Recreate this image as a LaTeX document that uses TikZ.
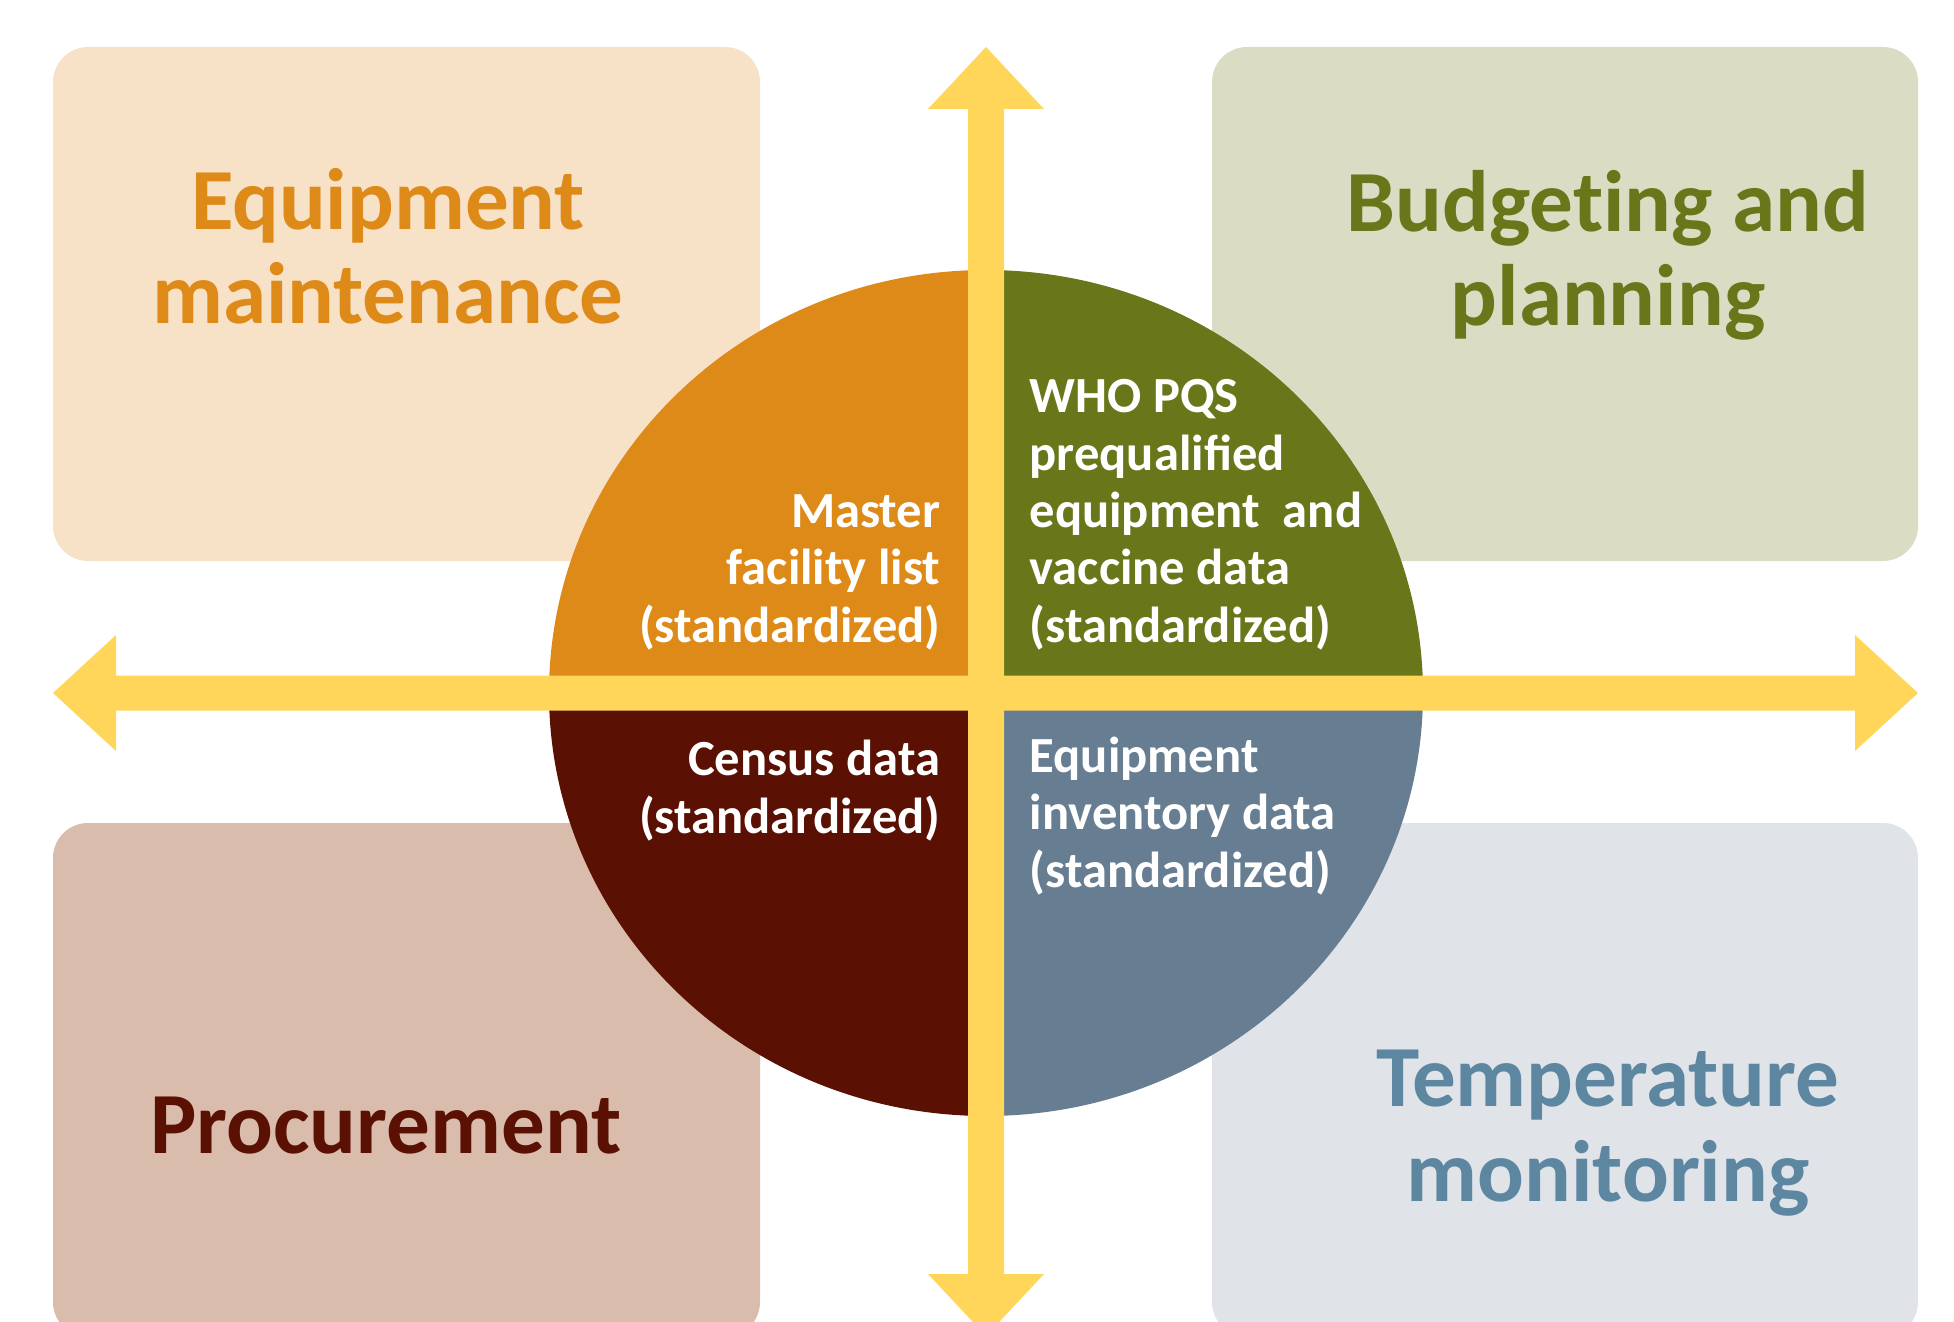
\documentclass[tikz,border=0pt]{standalone}
\usepackage{fontspec}
\setmainfont{Carlito}
\usetikzlibrary{calc}
\definecolor{maintlight}{HTML}{F7E2C8}
\definecolor{maintdark}{HTML}{DE8A18}
\definecolor{budgetlight}{HTML}{DADDC4}
\definecolor{budgetdark}{HTML}{6A761A}
\definecolor{procurelight}{HTML}{D9BCAC}
\definecolor{procuredark}{HTML}{5A1002}
\definecolor{templight}{HTML}{E0E4E9}
\definecolor{tempdark}{HTML}{677E92}
\definecolor{temptext}{HTML}{5D87A1}
\definecolor{axisyellow}{HTML}{FFD55A}
\def\quadrant[#1](#2:#3){\fill[#1] (9.86, 6.28) -- ++(#2:4.37 and 4.23) arc[start angle=#2, end angle=#3, x radius=4.37, y radius=4.23] -- cycle;}

\begin{document}
\begin{tikzpicture}[
  bigtext/.style={font=\fontsize{24.8pt}{27pt}\selectfont\bfseries, align=center, anchor=base, inner sep=0pt},
  smalltext/.style={font=\fontsize{14.4pt}{16.3pt}\selectfont\bfseries, text=white, inner sep=0pt}]
			%%%%% START %%%%%
			\useasboundingbox (0, 0) rectangle (19.54, 13.21);
			\begin{scope}
			\clip (0, 0) rectangle (19.54, 13.21);
			
			\fill[maintlight, rounded corners=0.35cm] (0.53, 12.74) rectangle (7.60, 7.60);
			\fill[budgetlight, rounded corners=0.35cm] (12.12, 12.74) rectangle (19.18, 7.60);
			\fill[procurelight, rounded corners=0.35cm] (0.53, 4.98) rectangle (7.60, -0.16);
			\fill[templight, rounded corners=0.35cm] (12.12, 4.98) rectangle (19.18, -0.16);
			
			\quadrant[maintdark](180:90)
			\quadrant[budgetdark](90:0)
			\quadrant[procuredark](180:270)
			\quadrant[tempdark](270:360)
			
			\fill[axisyellow] (9.86, 12.74) -- (10.44, 12.12) -- (10.04, 12.12) -- (10.04, 0.47) -- (10.44, 0.47)
			  -- (9.86, -0.15) -- (9.28, 0.47) -- (9.68, 0.47) -- (9.68, 12.12) -- (9.28, 12.12) -- cycle;
			\fill[axisyellow] (0.53, 6.28) -- (1.16, 6.86) -- (1.16, 6.455) -- (18.55, 6.455) -- (18.55, 6.86)
			  -- (19.18, 6.28) -- (18.55, 5.70) -- (18.55, 6.105) -- (1.16, 6.105) -- (1.16, 5.70) -- cycle;
			\end{scope}
			
			% base anchor sits on the last line
			\node[bigtext, text=maintdark] (maint) at (3.88, 9.97) {Equipment\\maintenance};
			\node[bigtext, text=budgetdark] (budget) at (16.08, 9.95) {Budget\kern0pt ing and\\planning};
			\node[bigtext, text=procuredark] (procure) at (3.86, 1.68) {Procurement};
			\node[bigtext, text=temptext] (temp) at (16.08, 1.20) {Temperature\\monitoring};
			
			\node[smalltext, align=right, anchor=base east] (facility) at (9.41, 6.79) {Master\\facility list\\(standardized)};
			\node[smalltext, align=left, anchor=base west] (pqs) at (10.29, 6.79) {WHO PQS\\prequalified\\equipment~ and\\vaccine data\\(standardized)};
			\node[smalltext, align=right, anchor=base east] (census) at (9.41, 4.88) {Census data\\(standardized)};
			\node[smalltext, align=left, anchor=base west] (inventory) at (10.29, 4.34) {Equipment\\inventory data\\(standardized)};
			%%%%% END %%%%%
\end{tikzpicture}
\end{document}
